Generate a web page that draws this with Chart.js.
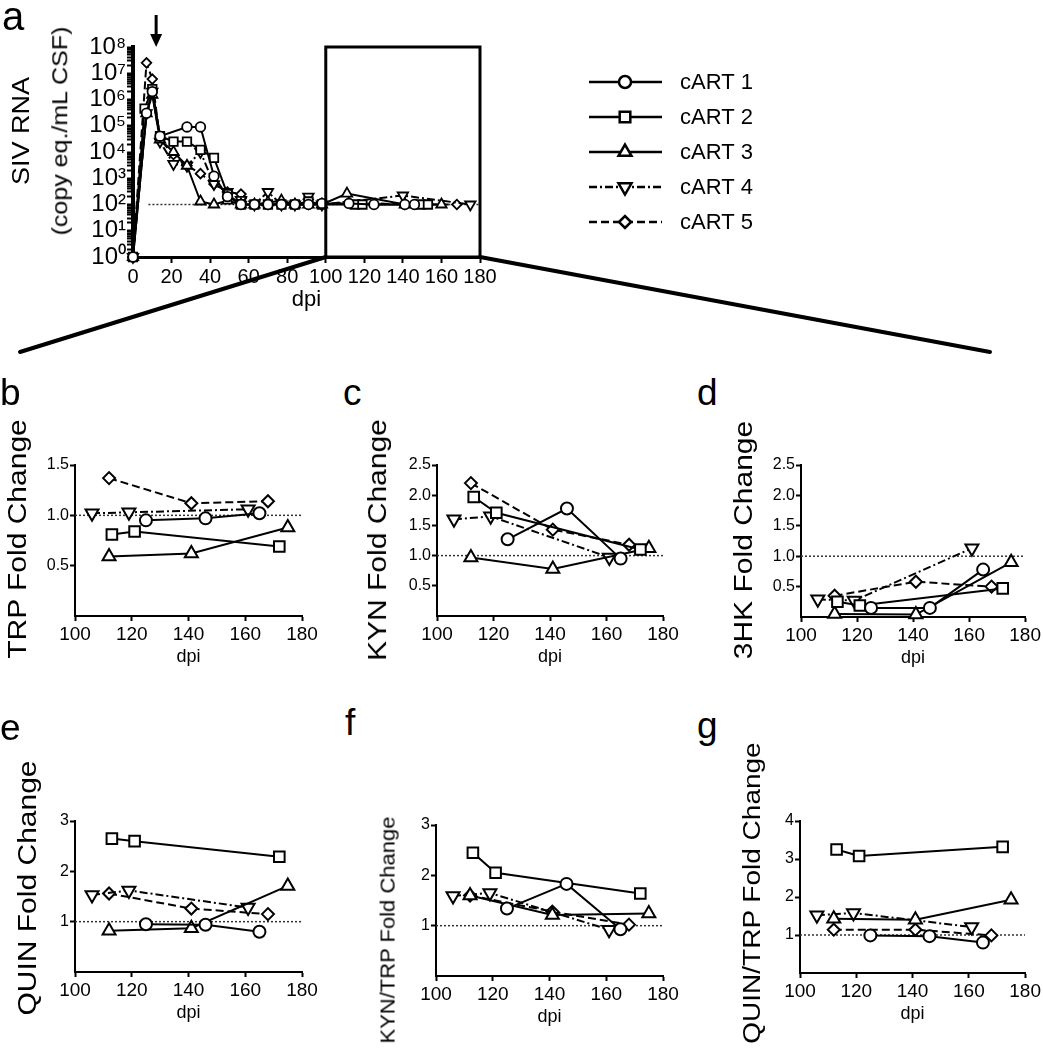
<!DOCTYPE html>
<html>
<head>
<meta charset="utf-8">
<script src="https://cdn.jsdelivr.net/npm/chart.js@4.4.0/dist/chart.umd.min.js"></script>
<style>
  body { margin:0; background:#fff; width:1043px; height:1050px; position:relative; overflow:hidden; font-family:'Liberation Sans', Arial, sans-serif; color:#000; }
  canvas { position:absolute; }
  .lbl { position:absolute; white-space:nowrap; line-height:1; }
  .rot { transform: translate(-50%, -50%) scaleX(0.88) rotate(-90deg); }
</style>
</head>
<body>
<canvas id="chartA"></canvas>
<canvas id="chartB"></canvas>
<canvas id="chartC"></canvas>
<canvas id="chartD"></canvas>
<canvas id="chartE"></canvas>
<canvas id="chartF"></canvas>
<canvas id="chartG"></canvas>

<div class="lbl" style="left:2px;top:-4px;font-size:40px">a</div>
<div class="lbl" style="left:0px;top:374px;font-size:37px">b</div>
<div class="lbl" style="left:343px;top:374px;font-size:37px">c</div>
<div class="lbl" style="left:697px;top:374px;font-size:37px">d</div>
<div class="lbl" style="left:0px;top:709px;font-size:37px">e</div>
<div class="lbl" style="left:345px;top:704px;font-size:37px">f</div>
<div class="lbl" style="left:697px;top:707px;font-size:37px">g</div>

<div class="lbl rot" style="left:22px;top:131px;font-size:27px">SIV RNA</div>
<div class="lbl rot" style="left:60px;top:131px;font-size:25px">(copy eq./mL CSF)</div>
<div class="lbl rot" style="left:17px;top:539px;font-size:30px">TRP Fold Change</div>
<div class="lbl rot" style="left:377px;top:540px;font-size:30px">KYN Fold Change</div>
<div class="lbl rot" style="left:743px;top:540px;font-size:30px">3HK Fold Change</div>
<div class="lbl rot" style="left:27px;top:888px;font-size:30px">QUIN Fold Change</div>
<div class="lbl rot" style="left:388px;top:930px;font-size:22px">KYN/TRP Fold Change</div>
<div class="lbl rot" style="left:752px;top:893px;font-size:28px">QUIN/TRP Fold Change</div>

<script>
// ---- panel a: CSF viral load ----
const sivDays1 = [0, 7, 10, 14, 28, 35, 42, 49, 56, 63, 70, 77, 84, 91, 98, 112, 125, 141, 146];
const sivRna1  = [1, 3e5, 2e6, 4e4, 9e4, 9e4, 1.2e3, 2e2, 100, 100, 100, 100, 100, 100, 110, 110, 100, 100, 100];
const sivDays2 = [0, 6, 10, 14, 21, 28, 35, 42, 49, 56, 63, 70, 77, 84, 91, 98, 115, 119, 149, 153];
const sivRna2  = [1, 4.5e5, 2.5e6, 4e4, 2.5e4, 2.5e4, 1.2e4, 6e3, 2.5e2, 100, 100, 100, 100, 100, 130, 100, 100, 100, 100, 100];
const sivDays3 = [0, 7, 10, 14, 21, 28, 35, 42, 49, 56, 63, 70, 77, 84, 91, 98, 111, 141, 160];
const sivRna3  = [1, 3e5, 1.5e6, 3e4, 1e4, 3e3, 130, 100, 140, 100, 100, 120, 140, 100, 100, 100, 260, 100, 100];
const sivDays4 = [0, 7, 10, 14, 21, 28, 35, 42, 49, 56, 63, 70, 77, 84, 91, 98, 140, 175];
const sivRna4  = [1, 3e5, 2e6, 2.5e4, 3.5e3, 3e3, 1e4, 6e2, 3e2, 150, 100, 300, 100, 100, 200, 100, 220, 100];
const sivDays5 = [0, 7, 10, 14, 21, 28, 35, 42, 49, 56, 63, 70, 77, 84, 91, 98, 112, 141, 168];
const sivRna5  = [1, 2.5e7, 6e6, 3e4, 8e3, 3e3, 1.5e3, 6e2, 3e2, 2.5e2, 100, 100, 100, 100, 100, 100, 120, 100, 100];
const limitDays = [8, 180];
const limitRna = [100, 100];
const sivDayTicks = [0, 20, 40, 60, 80, 100, 120, 140, 160, 180];
const rnaDecades = [0, 1, 2, 3, 4, 5, 6, 7, 8];
const rnaMinor = [2, 3, 4, 5, 6, 7, 8, 9];
const boxDays = [100, 180];
const arrowDay = 12;

// ---- panels b-g: fold change vs baseline ----
const seriesNames = ['cART 1', 'cART 2', 'cART 3', 'cART 4', 'cART 5'];
const sampleDays = [[125, 146, 165], [113, 121, 172], [112, 141, 175], [106, 119, 161], [112, 141, 168]];
const trpFold     = [[0.95, 0.97, 1.02], [0.81, 0.84, 0.69], [0.59, 0.62, 0.88], [1.02, 1.03, 1.06], [1.37, 1.12, 1.14]];
const kynFold     = [[1.27, 1.78, 0.95], [1.97, 1.71, 1.10], [0.97, 0.78, 1.12], [1.60, 1.65, 0.97], [2.20, 1.43, 1.18]];
const hkFold      = [[0.15, 0.15, 0.78], [0.25, 0.19, 0.47], [0.05, 0.04, 0.90], [0.29, 0.27, 1.13], [0.35, 0.58, 0.50]];
const quinFold    = [[0.95, 0.94, 0.80], [2.65, 2.60, 2.29], [0.82, 0.87, 1.71], [1.53, 1.62, 1.28], [1.56, 1.26, 1.15]];
const kynTrpFold  = [[1.34, 1.83, 0.93], [2.45, 2.05, 1.64], [1.60, 1.21, 1.24], [1.59, 1.65, 0.92], [1.60, 1.28, 1.02]];
const quinTrpFold = [[0.99, 0.97, 0.80], [3.25, 3.08, 3.32], [1.43, 1.40, 1.93], [1.52, 1.58, 1.21], [1.14, 1.14, 0.99]];
const foldDayTicks = [100, 120, 140, 160, 180];
const baselineDays = [100, 180];
const baselineFold = [1, 1];
const halfTicks = [0.5, 1.0, 1.5, 2.0, 2.5];
const wholeTicks = [1, 2, 3, 4];

const REG = "'Liberation Sans', Arial, sans-serif";
const superDigits = '⁰¹²³⁴⁵⁶⁷⁸⁹';

const seriesStyle = [
  { pointStyle: 'circle', radius: 6, rotation: 0, dash: [] },
  { pointStyle: 'rect', radius: 7.5, rotation: 0, dash: [] },
  { pointStyle: 'triangle', radius: 7.5, rotation: 0, dash: [] },
  { pointStyle: 'triangle', radius: 7.5, rotation: 180, dash: [8, 3, 2, 3] },
  { pointStyle: 'rectRot', radius: 6, rotation: 0, dash: [8, 4] }
];

Chart.defaults.color = '#000';

function makeSeries(days, vals, i, scale) {
  const st = seriesStyle[i];
  return {
    label: seriesNames[i],
    data: days.map((d, k) => ({ x: d, y: vals[k] })),
    borderColor: '#000',
    borderWidth: 2,
    borderDash: st.dash,
    pointStyle: st.pointStyle,
    pointRotation: st.rotation,
    pointRadius: st.radius * scale,
    pointBorderWidth: 2,
    pointBackgroundColor: '#fff',
    pointBorderColor: '#000',
    tension: 0,
    clip: false,
    order: 0
  };
}

function refLine(xs, ys) {
  return {
    data: xs.map((d, k) => ({ x: d, y: ys[k] })),
    borderColor: '#333',
    borderWidth: 1.5,
    borderDash: [2, 2],
    pointRadius: 0,
    order: 10
  };
}

function superscript(n) {
  return String(n).split('').map(c => superDigits[+c]).join('');
}

// box, arrow, zoom connectors and legend for panel a
const panelAExtras = {
  id: 'panelAExtras',
  afterDatasetsDraw(chart) {
    const { ctx, scales: { x, y } } = chart;
    const x0 = x.getPixelForValue(boxDays[0]);
    const x1 = x.getPixelForValue(boxDays[1]);
    const yb = y.getPixelForValue(1);
    const yt = y.getPixelForValue(1e8);
    ctx.save();
    ctx.strokeStyle = '#000';
    ctx.lineWidth = 3;
    ctx.setLineDash([]);
    ctx.strokeRect(x0, yt, x1 - x0, yb - yt);

    ctx.lineWidth = 4;
    ctx.lineCap = 'round';
    ctx.beginPath();
    ctx.moveTo(x0, yb); ctx.lineTo(20, 352);
    ctx.moveTo(x1, yb); ctx.lineTo(990, 352);
    ctx.stroke();

    // treatment start arrow
    const ax = x.getPixelForValue(arrowDay);
    ctx.lineWidth = 3;
    ctx.lineCap = 'butt';
    ctx.beginPath();
    ctx.moveTo(ax, 15); ctx.lineTo(ax, 36);
    ctx.stroke();
    ctx.fillStyle = '#000';
    ctx.beginPath();
    ctx.moveTo(ax - 6, 34); ctx.lineTo(ax + 6, 34); ctx.lineTo(ax, 47);
    ctx.closePath();
    ctx.fill();

    // legend
    const rows = [82, 117, 152, 187, 222];
    chart.data.datasets.forEach((ds, i) => {
      if (i >= seriesNames.length) return;
      const ry = rows[i];
      ctx.strokeStyle = '#000';
      ctx.lineWidth = 2.5;
      ctx.setLineDash(ds.borderDash || []);
      ctx.beginPath();
      ctx.moveTo(589, ry); ctx.lineTo(662, ry);
      ctx.stroke();
      ctx.setLineDash([]);
      ctx.fillStyle = '#fff';
      Chart.helpers.drawPoint(ctx, {
        pointStyle: seriesStyle[i].pointStyle,
        rotation: seriesStyle[i].rotation,
        radius: seriesStyle[i].radius,
        borderWidth: 2.5
      }, 625, ry);
      ctx.fillStyle = '#000';
      ctx.font = '22px ' + REG;
      ctx.textBaseline = 'middle';
      ctx.textAlign = 'left';
      ctx.fillText(ds.label, 680, ry + 1);
    });
    ctx.restore();
  }
};

function placeCanvas(id, left, top, w, h) {
  const cv = document.getElementById(id);
  cv.width = w; cv.height = h;
  cv.style.left = left + 'px';
  cv.style.top = top + 'px';
  return cv;
}

// panel a
(function () {
  const W = 1043, H = 370;
  const area = { left: 133, right: 480, top: 47, bottom: 257 };
  const xH = 56;
  const cv = placeCanvas('chartA', 0, 0, W, H);
  const days = [sivDays1, sivDays2, sivDays3, sivDays4, sivDays5];
  const rna = [sivRna1, sivRna2, sivRna3, sivRna4, sivRna5];
  const datasets = days.map((d, i) => makeSeries(d, rna[i], i, 0.8));
  datasets.forEach(ds => { ds.pointBorderWidth = 1.8; });
  datasets.push(refLine(limitDays, limitRna));
  new Chart(cv, {
    type: 'line',
    data: { datasets },
    options: {
      responsive: false,
      animation: false,
      events: [],
      layout: { autoPadding: false, padding: { left: 0, top: area.top, right: W - area.right, bottom: H - area.bottom - xH } },
      plugins: { legend: { display: false }, tooltip: { enabled: false } },
      scales: {
        x: {
          type: 'linear', min: 0, max: 180,
          afterBuildTicks: s => { s.ticks = sivDayTicks.map(v => ({ value: v })); },
          afterFit: s => { s.height = xH; },
          border: { display: true, width: 3, color: '#000' },
          grid: { drawOnChartArea: false, drawTicks: true, tickLength: 6, tickWidth: 2, tickColor: '#000' },
          ticks: { autoSkip: false, maxRotation: 0, padding: 2, font: { family: REG, size: 20 } },
          title: { display: true, text: 'dpi', padding: 0, font: { family: REG, size: 22 } }
        },
        y: {
          type: 'logarithmic', min: 1, max: 1e8,
          afterBuildTicks: s => {
            const t = [];
            rnaDecades.forEach(k => {
              t.push({ value: Math.pow(10, k) });
              if (k < 8) rnaMinor.forEach(m => t.push({ value: m * Math.pow(10, k) }));
            });
            s.ticks = t.sort((a, b) => a.value - b.value);
          },
          afterFit: s => { s.width = area.left; },
          border: { display: true, width: 4, color: '#000' },
          grid: { drawOnChartArea: false, drawTicks: true, tickLength: 6, tickWidth: 2, tickColor: '#000' },
          ticks: {
            autoSkip: false, padding: 1, font: { family: REG, size: 24 },
            callback: v => {
              const k = Math.log10(v);
              return Math.abs(k - Math.round(k)) < 1e-9 ? '10' + superscript(Math.round(k)) : '';
            }
          }
        }
      }
    },
    plugins: [panelAExtras]
  });
})();

// panels b-g
function foldPanel(id, area, values, yMax, yTicks, decimals, padR) {
  const yW = 60, xH = 52, padT = 25, padB = 8;
  const left = area.left - yW, top = area.top - padT;
  const w = area.right - left + padR;
  const h = area.bottom - top + xH + padB;
  const cv = placeCanvas(id, left, top, w, h);
  const datasets = values.map((v, i) => makeSeries(sampleDays[i], v, i, 1));
  datasets.push(refLine(baselineDays, baselineFold));
  new Chart(cv, {
    type: 'line',
    data: { datasets },
    options: {
      responsive: false,
      animation: false,
      events: [],
      layout: { autoPadding: false, padding: { left: 0, top: padT, right: padR, bottom: padB } },
      plugins: { legend: { display: false }, tooltip: { enabled: false } },
      scales: {
        x: {
          type: 'linear', min: 100, max: 180,
          afterBuildTicks: s => { s.ticks = foldDayTicks.map(v => ({ value: v })); },
          afterFit: s => { s.height = xH; },
          border: { display: true, width: 2, color: '#000' },
          grid: { drawOnChartArea: false, drawTicks: true, tickLength: 5, tickWidth: 2, tickColor: '#000' },
          ticks: { autoSkip: false, maxRotation: 0, padding: 2, font: { family: REG, size: 19 } },
          title: { display: true, text: 'dpi', padding: 0, font: { family: REG, size: 18 } }
        },
        y: {
          type: 'linear', min: 0, max: yMax,
          afterBuildTicks: s => { s.ticks = yTicks.filter(v => v <= yMax).map(v => ({ value: v })); },
          afterFit: s => { s.width = yW; },
          border: { display: true, width: 2, color: '#000' },
          grid: { drawOnChartArea: false, drawTicks: true, tickLength: 5, tickWidth: 2, tickColor: '#000' },
          ticks: { autoSkip: false, padding: 1, font: { family: REG, size: 16 }, callback: v => v.toFixed(decimals) }
        }
      }
    }
  });
}

foldPanel('chartB', { left: 75, right: 302, top: 465, bottom: 616 }, trpFold, 1.5, halfTicks, 1, 28);
foldPanel('chartC', { left: 437, right: 663, top: 465, bottom: 616 }, kynFold, 2.5, halfTicks, 1, 28);
foldPanel('chartD', { left: 801, right: 1028, top: 465, bottom: 617 }, hkFold, 2.5, halfTicks, 1, 15);
foldPanel('chartE', { left: 75, right: 302, top: 821, bottom: 972 }, quinFold, 3, wholeTicks, 0, 28);
foldPanel('chartF', { left: 436, right: 663, top: 825, bottom: 976 }, kynTrpFold, 3, wholeTicks, 0, 28);
foldPanel('chartG', { left: 800, right: 1028, top: 821, bottom: 973 }, quinTrpFold, 4, wholeTicks, 0, 15);
</script>
</body>
</html>
